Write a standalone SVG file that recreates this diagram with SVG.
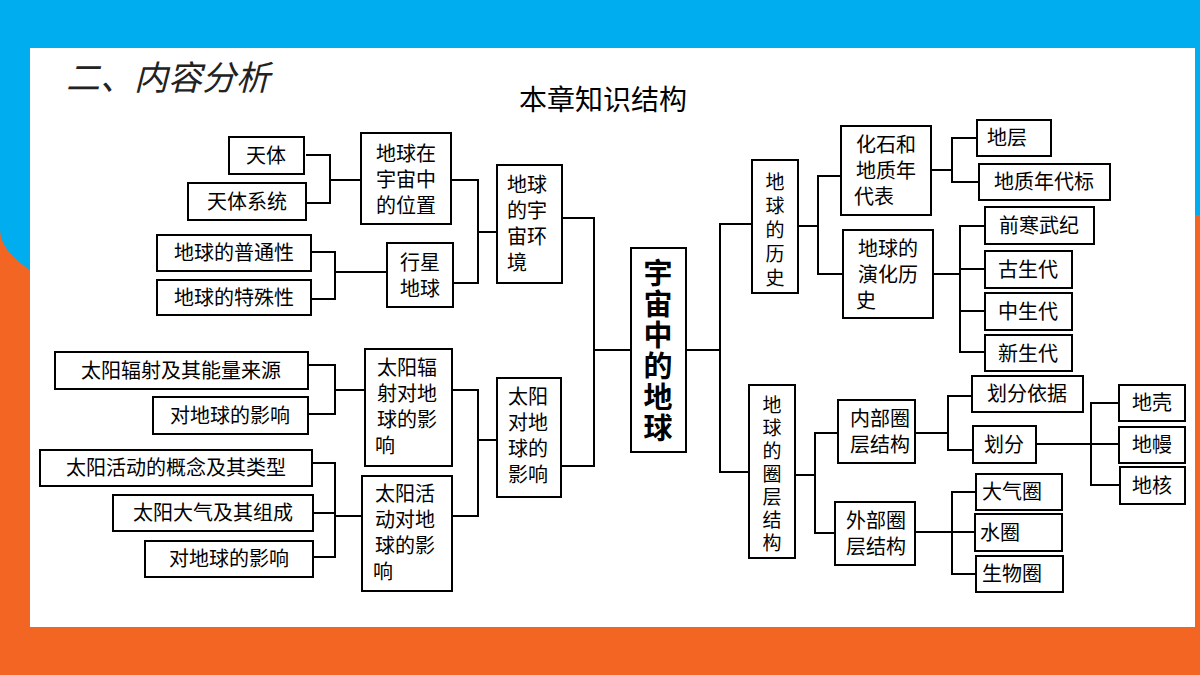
<svg xmlns="http://www.w3.org/2000/svg" width="1200" height="675" viewBox="0 0 1200 675">
<style>
.b{fill:#fff;stroke:#000;stroke-width:2}
.t{font-family:"Noto Sans CJK SC",sans-serif;font-size:20px;fill:#000;text-anchor:middle}
.v{font-family:"Noto Sans CJK SC",sans-serif;font-size:19px;fill:#000;text-anchor:middle}
.m{font-family:"Noto Sans CJK SC",sans-serif;font-size:29px;font-weight:bold;fill:#000;text-anchor:middle}
.c{fill:none;stroke:#000;stroke-width:2}
</style>
<rect width="1200" height="675" fill="#f26522"/>
<rect width="1200" height="48" fill="#00aeef"/>
<path d="M0 0H30V270Q0 250 0 230Z" fill="#00aeef"/>
<path d="M1170 0H1200V215H1170Z" fill="#00aeef"/>
<rect x="30" y="48" width="1165" height="579" fill="#fff"/>
<text x="66" y="90" style="font-family:'Noto Sans CJK SC',sans-serif;font-size:34px;font-style:italic;fill:#222">二、内容分析</text>
<text x="603" y="110" style="font-family:'Noto Sans CJK SC',sans-serif;font-size:28px;fill:#000;text-anchor:middle">本章知识结构</text>
<g id="connectors" class="c">
<path d="M306 155H330V203H306M330 180H361"/>
<path d="M311 252H335V299H311M335 272H387"/>
<path d="M451 180H478V283H453M478 232H497"/>
<path d="M308 365H335V414H308M335 390H365"/>
<path d="M312 463H335V557H313M313 513H335M335 516H362"/>
<path d="M452 390H478V516H452M478 440H497"/>
<path d="M562 218H594V466H561M594 350H631"/>
<path d="M686 350H720M752 224H720V472H749"/>
<path d="M798 226H818M841 176H818V274H843"/>
<path d="M931 170H952M977 138H952V182H979"/>
<path d="M933 274H960M985 226H960V352H985M960 269H985M960 311H985"/>
<path d="M795 475H815M838 433H815V533H835"/>
<path d="M915 433H948M972 396H948V450H973"/>
<path d="M1036 444H1119M1119 403H1091V485H1120"/>
<path d="M915 532H976M976 492H952V574H976"/>
</g>
<g id="n1"><rect class="b" x="229" y="137" width="75" height="37"/><text class="t" x="266" y="163">天体</text></g>
<g id="n2"><rect class="b" x="188" y="183" width="118" height="37"/><text class="t" x="247" y="209">天体系统</text></g>
<g id="n3"><rect class="b" x="361" y="133" width="90" height="91"/><text class="t" x="406" y="161">地球在</text><text class="t" x="406" y="187">宇宙中</text><text class="t" x="406" y="213">的位置</text></g>
<g id="n4"><rect class="b" x="157" y="235" width="154" height="36"/><text class="t" x="234" y="260">地球的普通性</text></g>
<g id="n5"><rect class="b" x="157" y="280" width="154" height="35"/><text class="t" x="234" y="305">地球的特殊性</text></g>
<g id="n6"><rect class="b" x="387" y="243" width="66" height="64"/><text class="t" x="420" y="270">行星</text><text class="t" x="420" y="296">地球</text></g>
<g id="n7"><rect class="b" x="497" y="165" width="65" height="118"/><text class="t" x="527" y="192">地球</text><text class="t" x="527" y="218">的宇</text><text class="t" x="527" y="244">宙环</text><text class="t" x="517" y="270">境</text></g>
<g id="n8"><rect class="b" x="55" y="352" width="253" height="37"/><text class="t" x="181" y="378">太阳辐射及其能量来源</text></g>
<g id="n9"><rect class="b" x="153" y="397" width="155" height="37"/><text class="t" x="230" y="423">对地球的影响</text></g>
<g id="n10"><rect class="b" x="365" y="349" width="87" height="117"/><text class="t" x="407" y="375">太阳辐</text><text class="t" x="407" y="401">射对地</text><text class="t" x="407" y="427">球的影</text><text class="t" x="385" y="453">响</text></g>
<g id="n11"><rect class="b" x="40" y="450" width="272" height="36"/><text class="t" x="176" y="475">太阳活动的概念及其类型</text></g>
<g id="n12"><rect class="b" x="113" y="495" width="200" height="36"/><text class="t" x="213" y="520">太阳大气及其组成</text></g>
<g id="n13"><rect class="b" x="145" y="541" width="168" height="36"/><text class="t" x="229" y="566">对地球的影响</text></g>
<g id="n14"><rect class="b" x="362" y="476" width="90" height="115"/><text class="t" x="405" y="501">太阳活</text><text class="t" x="405" y="527">动对地</text><text class="t" x="405" y="553">球的影</text><text class="t" x="383" y="579">响</text></g>
<g id="n15"><rect class="b" x="497" y="378" width="64" height="119"/><text class="t" x="528" y="404">太阳</text><text class="t" x="528" y="430">对地</text><text class="t" x="528" y="456">球的</text><text class="t" x="528" y="482">影响</text></g>
<g id="center"><rect class="b" x="631" y="248" width="55" height="204"/><text class="m" x="658" y="284">宇</text><text class="m" x="658" y="315">宙</text><text class="m" x="658" y="346">中</text><text class="m" x="658" y="377">的</text><text class="m" x="658" y="408">地</text><text class="m" x="658" y="439">球</text></g>
<g id="n16"><rect class="b" x="752" y="160" width="46" height="133"/><text class="v" x="775" y="189">地</text><text class="v" x="775" y="213">球</text><text class="v" x="775" y="237">的</text><text class="v" x="775" y="261">历</text><text class="v" x="775" y="285">史</text></g>
<g id="n17"><rect class="b" x="749" y="385" width="46" height="173"/><text class="v" x="772" y="412">地</text><text class="v" x="772" y="435">球</text><text class="v" x="772" y="458">的</text><text class="v" x="772" y="481">圈</text><text class="v" x="772" y="504">层</text><text class="v" x="772" y="527">结</text><text class="v" x="772" y="550">构</text></g>
<g id="n18"><rect class="b" x="841" y="126" width="90" height="89"/><text class="t" x="886" y="152">化石和</text><text class="t" x="886" y="178">地质年</text><text class="t" x="874" y="204">代表</text></g>
<g id="n19"><rect class="b" x="843" y="230" width="90" height="88"/><text class="t" x="888" y="256">地球的</text><text class="t" x="888" y="282">演化历</text><text class="t" x="866" y="308">史</text></g>
<g id="n20"><rect class="b" x="977" y="120" width="74" height="36"/><text class="t" x="1007" y="145">地层</text></g>
<g id="n21"><rect class="b" x="979" y="164" width="131" height="36"/><text class="t" x="1044" y="189">地质年代标</text></g>
<g id="n22"><rect class="b" x="985" y="207" width="109" height="37"/><text class="t" x="1039" y="233">前寒武纪</text></g>
<g id="n23"><rect class="b" x="985" y="251" width="87" height="37"/><text class="t" x="1028" y="277">古生代</text></g>
<g id="n24"><rect class="b" x="985" y="293" width="87" height="37"/><text class="t" x="1028" y="319">中生代</text></g>
<g id="n25"><rect class="b" x="985" y="335" width="87" height="36"/><text class="t" x="1028" y="361">新生代</text></g>
<g id="n26"><rect class="b" x="838" y="400" width="77" height="63"/><text class="t" x="880" y="426">内部圈</text><text class="t" x="880" y="452">层结构</text></g>
<g id="n27"><rect class="b" x="835" y="502" width="80" height="63"/><text class="t" x="876" y="528">外部圈</text><text class="t" x="876" y="554">层结构</text></g>
<g id="n28"><rect class="b" x="972" y="376" width="111" height="36"/><text class="t" x="1027" y="401">划分依据</text></g>
<g id="n29"><rect class="b" x="973" y="426" width="63" height="37"/><text class="t" x="1004" y="452">划分</text></g>
<g id="n30"><rect class="b" x="1119" y="385" width="66" height="36"/><text class="t" x="1152" y="410">地壳</text></g>
<g id="n31"><rect class="b" x="1119" y="427" width="66" height="36"/><text class="t" x="1152" y="452">地幔</text></g>
<g id="n32"><rect class="b" x="1120" y="467" width="65" height="37"/><text class="t" x="1152" y="493">地核</text></g>
<g id="n33"><rect class="b" x="976" y="474" width="86" height="36"/><text class="t" x="1012" y="499">大气圈</text></g>
<g id="n34"><rect class="b" x="975" y="514" width="87" height="37"/><text class="t" x="1000" y="540">水圈</text></g>
<g id="n35"><rect class="b" x="976" y="556" width="87" height="36"/><text class="t" x="1012" y="581">生物圈</text></g>
</svg>
